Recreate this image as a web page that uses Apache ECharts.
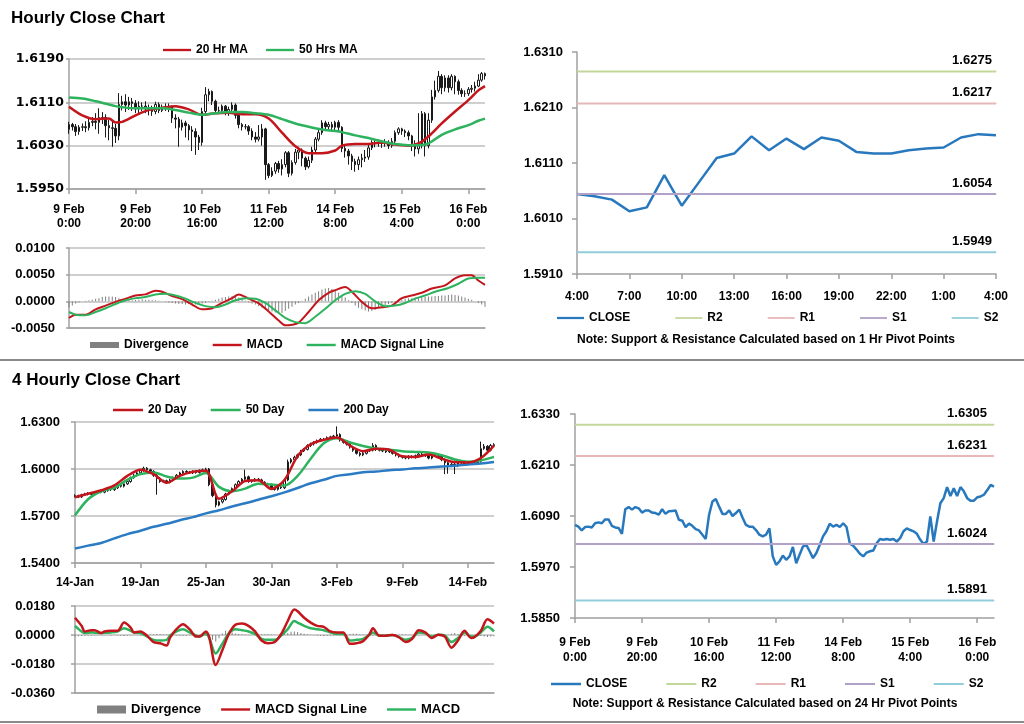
<!DOCTYPE html>
<html><head><meta charset="utf-8">
<script src="https://cdn.jsdelivr.net/npm/echarts@6/dist/echarts.min.js"></script>
<style>
html,body{margin:0;padding:0;background:#fff;}
body{width:1024px;height:724px;position:relative;overflow:hidden;}
.c{position:absolute;}
.sep{position:absolute;left:0;width:1024px;height:2px;background:#8a8a8a;}
</style></head><body>
<div id="tl" class="c" style="left:0;top:0;width:505px;height:358px"></div>
<div id="tr" class="c" style="left:505px;top:0;width:519px;height:358px"></div>
<div id="bl" class="c" style="left:0;top:362px;width:505px;height:358px"></div>
<div id="br" class="c" style="left:505px;top:362px;width:519px;height:358px"></div>
<div class="sep" style="top:359px"></div>
<div class="sep" style="top:721px"></div>
<script>
const FONT = '"Liberation Sans", Arial, sans-serif';

// ---------- Hourly data (9 Feb 0:00 .. 16 Feb 5:00) ----------
const hourTicks = ['9 Feb\n0:00','9 Feb\n20:00','10 Feb\n16:00','11 Feb\n12:00','14 Feb\n8:00','15 Feb\n4:00','16 Feb\n0:00'];
const hourClose = [1.6069,1.6065,1.6056,1.6064,1.6065,1.6063,1.6073,1.6075,1.6073,1.6082,
1.6082,1.6067,1.6063,1.6062,1.6048,1.6106,1.6111,1.6105,1.6111,1.6108,
1.6098,1.6103,1.6103,1.6098,1.6097,1.6093,1.6106,1.6095,1.6101,1.6102,
1.6103,1.6081,1.6079,1.6064,1.6072,1.6067,1.6059,1.6056,1.6046,1.6036,
1.6093,1.6124,1.6130,1.6112,1.6095,1.6095,1.6103,1.6090,1.6097,1.6105,
1.6086,1.6069,1.6065,1.6065,1.6057,1.6046,1.6042,1.6046,1.6061,1.5995,
1.5975,1.5983,1.5997,1.5987,1.5995,1.6017,1.5979,1.5999,1.6018,1.6022,
1.6007,1.5991,1.6003,1.6022,1.6042,1.6054,1.6072,1.6065,1.6069,1.6064,
1.6073,1.6064,1.6025,1.6020,1.6011,1.6001,1.5995,1.6004,1.6007,1.6009,
1.6026,1.6036,1.6034,1.6036,1.6034,1.6036,1.6030,1.6038,1.6054,1.6061,
1.6057,1.6054,1.6048,1.6034,1.6024,1.6030,1.6089,1.6030,1.6077,1.6120,
1.6132,1.6158,1.6137,1.6155,1.6137,1.6158,1.6148,1.6132,1.6126,1.6126,
1.6134,1.6136,1.6140,1.6151,1.6163,1.6159];
const hourOpen = [1.6060,1.6069,1.6065,1.6056,1.6064,1.6065,1.6063,1.6073,1.6075,1.6073,
1.6082,1.6082,1.6067,1.6063,1.6062,1.6048,1.6106,1.6111,1.6105,1.6111,
1.6108,1.6098,1.6103,1.6103,1.6098,1.6097,1.6093,1.6106,1.6095,1.6101,
1.6102,1.6103,1.6081,1.6079,1.6064,1.6072,1.6067,1.6059,1.6056,1.6046,
1.6036,1.6093,1.6124,1.6130,1.6112,1.6095,1.6095,1.6103,1.6090,1.6097,
1.6105,1.6086,1.6069,1.6065,1.6065,1.6057,1.6046,1.6042,1.6046,1.6061,
1.5995,1.5975,1.5983,1.5997,1.5987,1.5995,1.6017,1.5979,1.5999,1.6018,
1.6022,1.6007,1.5991,1.6003,1.6022,1.6042,1.6054,1.6072,1.6065,1.6069,
1.6064,1.6073,1.6064,1.6025,1.6020,1.6011,1.6001,1.5995,1.6004,1.6007,
1.6009,1.6026,1.6036,1.6034,1.6036,1.6034,1.6036,1.6030,1.6038,1.6054,
1.6061,1.6057,1.6054,1.6048,1.6034,1.6024,1.6030,1.6089,1.6030,1.6077,
1.6120,1.6132,1.6158,1.6137,1.6155,1.6137,1.6158,1.6148,1.6132,1.6126,
1.6126,1.6134,1.6136,1.6140,1.6151,1.6163];
const hourLow = [1.6052,1.6058,1.6048,1.6050,1.6057,1.6055,1.6058,1.6066,1.6060,1.6052,
1.6070,1.6045,1.6040,1.6028,1.6035,1.6040,1.6095,1.6092,1.6096,1.6094,
1.6090,1.6088,1.6094,1.6090,1.6086,1.6085,1.6088,1.6090,1.6092,1.6094,
1.6092,1.6072,1.6062,1.6028,1.6058,1.6045,1.6040,1.6020,1.6013,1.6022,
1.6030,1.6088,1.6112,1.6105,1.6090,1.6088,1.6090,1.6086,1.6085,1.6090,
1.6080,1.6062,1.6058,1.6060,1.6050,1.6040,1.6036,1.6038,1.6030,1.5967,
1.5970,1.5972,1.5978,1.5980,1.5975,1.5990,1.5972,1.5975,1.5995,1.6005,
1.5992,1.5985,1.5988,1.5998,1.6018,1.6038,1.6050,1.6058,1.6060,1.6056,
1.6058,1.6055,1.6018,1.6008,1.5995,1.5985,1.5982,1.5985,1.5990,1.6000,
1.6004,1.6022,1.6027,1.6028,1.6026,1.6028,1.6024,1.6026,1.6035,1.6050,
1.6050,1.6046,1.6040,1.6020,1.6010,1.6015,1.6025,1.6010,1.6025,1.6072,
1.6115,1.6128,1.6125,1.6130,1.6128,1.6132,1.6125,1.6124,1.6120,1.6120,
1.6122,1.6128,1.6130,1.6138,1.6148,1.6152];
const hourHigh = [1.6074,1.6072,1.6070,1.6068,1.6071,1.6075,1.6080,1.6083,1.6090,1.6099,
1.6092,1.6088,1.6078,1.6075,1.6070,1.6127,1.6122,1.6125,1.6120,1.6118,
1.6114,1.6112,1.6110,1.6112,1.6106,1.6104,1.6111,1.6110,1.6106,1.6108,
1.6108,1.6104,1.6088,1.6083,1.6078,1.6076,1.6070,1.6066,1.6062,1.6050,
1.6100,1.6138,1.6135,1.6132,1.6115,1.6102,1.6106,1.6105,1.6102,1.6110,
1.6108,1.6090,1.6072,1.6070,1.6068,1.6062,1.6055,1.6068,1.6070,1.6063,
1.5998,1.5990,1.6000,1.6002,1.6005,1.6020,1.6020,1.6003,1.6024,1.6028,
1.6025,1.6010,1.6010,1.6028,1.6046,1.6062,1.6077,1.6076,1.6074,1.6074,
1.6076,1.6077,1.6066,1.6030,1.6024,1.6015,1.6006,1.6010,1.6015,1.6022,
1.6032,1.6040,1.6040,1.6041,1.6040,1.6042,1.6040,1.6044,1.6058,1.6064,
1.6063,1.6060,1.6058,1.6050,1.6040,1.6090,1.6094,1.6092,1.6090,1.6133,
1.6150,1.6168,1.6162,1.6160,1.6160,1.6162,1.6160,1.6152,1.6136,1.6132,
1.6138,1.6142,1.6148,1.6162,1.6166,1.6165];
const hMaIdx = [0,4,8,12,14,16,20,24,28,32,36,40,44,48,52,56,60,64,68,72,76,80,82,86,90,94,98,102,105,108,112,116,120,123,125];
const hMa20 = [1.6102,1.6086,1.6079,1.6080,1.6073,1.6074,1.6086,1.6096,1.6100,1.6103,1.6097,1.6087,1.6090,1.6091,1.6088,1.6088,1.6080,1.6054,1.6029,1.6016,1.6016,1.6021,1.6030,1.6033,1.6033,1.6036,1.6032,1.6030,1.6034,1.6047,1.6071,1.6093,1.6114,1.6132,1.6140];
const hMa50 = [1.6119,1.6117,1.6112,1.6106,1.6103,1.6101,1.6099,1.6099,1.6099,1.6096,1.6091,1.6087,1.6090,1.6092,1.6092,1.6090,1.6087,1.6079,1.6071,1.6065,1.6060,1.6057,1.6055,1.6049,1.6044,1.6038,1.6033,1.6031,1.6031,1.6034,1.6050,1.6060,1.6068,1.6076,1.6080];
const hPriceTicks = [1.5950,1.6030,1.6110,1.6190];
const hMacdTicks = [-0.005,0,0.005,0.010];
const hMacdIdx = [0,2,5,8,11,14,17,20,23,26,28,31,34,37,40,43,46,49,51,54,57,60,63,65,67,69,72,75,78,80,83,85,88,91,94,97,100,103,106,109,113,116,119,121,123,125];
const hMacd = [-0.0031,-0.0025,-0.0025,-0.0015,-0.0008,-0.0001,0.0005,0.0011,0.0013,0.0020,0.0018,0.0010,0.0004,-0.0006,-0.0015,-0.0013,-0.0003,0.0006,0.0013,0.0005,-0.0004,-0.0019,-0.0036,-0.0045,-0.0044,-0.0040,-0.0020,0.0002,0.0016,0.0021,0.0027,0.0018,-0.0001,-0.0013,-0.0011,-0.0008,0.0006,0.0011,0.0016,0.0024,0.0030,0.0043,0.0049,0.0049,0.0039,0.0031];
const hSigIdx = [0,2,5,8,11,14,17,20,23,26,29,32,35,38,41,44,47,50,53,56,59,62,65,68,71,74,77,80,83,86,89,92,95,98,101,104,107,110,114,117,120,123,125];
const hSig = [-0.0020,-0.0025,-0.0026,-0.0020,-0.0013,-0.0005,0.0002,0.0006,0.0008,0.0013,0.0014,0.0011,0.0005,-0.0003,-0.0009,-0.0011,-0.0006,0.0002,0.0006,0.0005,-0.0003,-0.0017,-0.0031,-0.0039,-0.0041,-0.0029,-0.0014,0.0002,0.0014,0.0019,0.0014,0.0000,-0.0009,-0.0008,-0.0003,0.0005,0.0011,0.0018,0.0025,0.0033,0.0043,0.0044,0.0044];
const hourDiv = [-0.0011,-0.0008,-0.0004,-0.0002,0.0000,0.0001,0.0002,0.0003,0.0005,0.0006,
0.0008,0.0009,0.0009,0.0009,0.0008,0.0006,0.0004,0.0003,0.0003,0.0002,
0.0003,0.0003,0.0004,0.0003,0.0003,0.0002,0.0002,0.0001,0.0000,-0.0001,
-0.0002,-0.0003,-0.0004,-0.0005,-0.0005,-0.0006,-0.0005,-0.0005,-0.0006,-0.0005,
-0.0004,-0.0003,-0.0001,0.0001,0.0003,0.0005,0.0007,0.0008,0.0009,0.0010,
0.0009,0.0007,0.0004,0.0001,-0.0002,-0.0004,-0.0006,-0.0009,-0.0012,-0.0015,
-0.0017,-0.0019,-0.0021,-0.0023,-0.0022,-0.0018,-0.0014,-0.0010,-0.0006,-0.0003,
0.0001,0.0005,0.0009,0.0013,0.0016,0.0019,0.0022,0.0024,0.0025,0.0023,
0.0020,0.0016,0.0012,0.0007,0.0002,-0.0003,-0.0008,-0.0012,-0.0015,-0.0017,
-0.0019,-0.0018,-0.0016,-0.0013,-0.0010,-0.0007,-0.0005,-0.0003,-0.0001,0.0002,
0.0004,0.0005,0.0006,0.0006,0.0007,0.0007,0.0008,0.0008,0.0009,0.0009,
0.0010,0.0010,0.0011,0.0011,0.0012,0.0013,0.0012,0.0011,0.0009,0.0007,
0.0005,0.0003,0.0000,-0.0003,-0.0006,-0.0010];

// ---------- Pivot charts ----------
const pivNames = ['R2','R1','S1','S2'];
const pivHours = ['4:00','5:00','6:00','7:00','8:00','9:00','10:00','11:00','12:00','13:00','14:00','15:00','16:00','17:00','18:00','19:00','20:00','21:00','22:00','23:00','0:00','1:00','2:00','3:00','4:00'];
const pivClose = [1.6054,1.6050,1.6044,1.6023,1.6030,1.6088,1.6033,1.6076,1.6119,1.6127,1.6158,1.6133,1.6154,1.6135,1.6156,1.6150,1.6130,1.6127,1.6127,1.6133,1.6136,1.6138,1.6156,1.6162,1.6160];
const piv1h = [1.6275,1.6217,1.6054,1.5949];
const piv1hTicks = [1.5910,1.6010,1.6110,1.6210,1.6310];
const piv24h = [1.6305,1.6231,1.6024,1.5891];
const piv24hTicks = [1.5850,1.5970,1.6090,1.6210,1.6330];

// ---------- 4-hourly data (14 Jan .. 15 Feb) ----------
const fourTicks = ['14-Jan','19-Jan','25-Jan','30-Jan','3-Feb','9-Feb','14-Feb'];
const fourClose = [1.5830,1.5822,1.5835,1.5840,1.5845,1.5838,1.5850,1.5858,1.5852,1.5862,
1.5870,1.5868,1.5880,1.5895,1.5890,1.5905,1.5920,1.5945,1.5960,1.5975,
1.5990,1.6005,1.5995,1.5985,1.5960,1.5940,1.5920,1.5925,1.5915,1.5930,
1.5945,1.5960,1.5975,1.5985,1.5980,1.5975,1.5985,1.5978,1.5990,1.5995,
1.6000,1.5900,1.5830,1.5770,1.5790,1.5805,1.5840,1.5860,1.5875,1.5900,
1.5920,1.5935,1.5950,1.5920,1.5925,1.5935,1.5930,1.5915,1.5905,1.5900,
1.5880,1.5870,1.5885,1.5880,1.5930,1.6045,1.6060,1.6075,1.6090,1.6115,
1.6125,1.6150,1.6160,1.6170,1.6180,1.6190,1.6185,1.6200,1.6205,1.6210,
1.6220,1.6185,1.6170,1.6160,1.6140,1.6120,1.6100,1.6090,1.6100,1.6115,
1.6120,1.6150,1.6125,1.6120,1.6115,1.6110,1.6115,1.6100,1.6090,1.6080,
1.6075,1.6070,1.6080,1.6075,1.6085,1.6095,1.6090,1.6085,1.6070,1.6090,
1.6085,1.6080,1.6060,1.6040,1.6020,1.6030,1.6020,1.6040,1.6045,1.6030,
1.6040,1.6035,1.6040,1.6050,1.6130,1.6145,1.6120,1.6150,1.6155];
const fourOpen = [1.5825,1.5830,1.5822,1.5835,1.5840,1.5845,1.5838,1.5850,1.5858,1.5852,
1.5862,1.5870,1.5868,1.5880,1.5895,1.5890,1.5905,1.5920,1.5945,1.5960,
1.5975,1.5990,1.6005,1.5995,1.5985,1.5960,1.5940,1.5920,1.5925,1.5915,
1.5930,1.5945,1.5960,1.5975,1.5985,1.5980,1.5975,1.5985,1.5978,1.5990,
1.5995,1.6000,1.5900,1.5830,1.5770,1.5790,1.5805,1.5840,1.5860,1.5875,
1.5900,1.5920,1.5935,1.5950,1.5920,1.5925,1.5935,1.5930,1.5915,1.5905,
1.5900,1.5880,1.5870,1.5885,1.5880,1.5930,1.6045,1.6060,1.6075,1.6090,
1.6115,1.6125,1.6150,1.6160,1.6170,1.6180,1.6190,1.6185,1.6200,1.6205,
1.6210,1.6220,1.6185,1.6170,1.6160,1.6140,1.6120,1.6100,1.6090,1.6100,
1.6115,1.6120,1.6150,1.6125,1.6120,1.6115,1.6110,1.6115,1.6100,1.6090,
1.6080,1.6075,1.6070,1.6080,1.6075,1.6085,1.6095,1.6090,1.6085,1.6070,
1.6090,1.6085,1.6080,1.6060,1.6040,1.6020,1.6030,1.6020,1.6040,1.6045,
1.6030,1.6040,1.6035,1.6040,1.6050,1.6130,1.6145,1.6120,1.6150];
const fourLow = [1.5818,1.5815,1.5815,1.5828,1.5832,1.5830,1.5830,1.5842,1.5845,1.5845,
1.5855,1.5860,1.5860,1.5872,1.5882,1.5882,1.5898,1.5912,1.5938,1.5952,
1.5968,1.5982,1.5985,1.5975,1.5950,1.5836,1.5912,1.5912,1.5905,1.5908,
1.5922,1.5938,1.5952,1.5968,1.5972,1.5968,1.5968,1.5970,1.5970,1.5985,
1.5988,1.5890,1.5820,1.5755,1.5762,1.5780,1.5798,1.5832,1.5852,1.5868,
1.5892,1.5912,1.5928,1.5912,1.5912,1.5918,1.5922,1.5908,1.5898,1.5892,
1.5872,1.5862,1.5862,1.5872,1.5872,1.5922,1.6035,1.6050,1.6066,1.6082,
1.6108,1.6118,1.6140,1.6150,1.6162,1.6172,1.6178,1.6178,1.6190,1.6195,
1.6200,1.6175,1.6162,1.6150,1.6130,1.6110,1.6092,1.6080,1.6082,1.6092,
1.6108,1.6112,1.6115,1.6112,1.6108,1.6102,1.6102,1.6092,1.6080,1.6072,
1.6066,1.6062,1.6062,1.6068,1.6066,1.6078,1.6082,1.6078,1.6062,1.6062,
1.6078,1.6072,1.6050,1.5967,1.5970,1.6012,1.5968,1.6012,1.6032,1.6022,
1.6022,1.6028,1.6028,1.6032,1.6042,1.6122,1.6110,1.6112,1.6142];
const fourHigh = [1.5838,1.5836,1.5842,1.5848,1.5852,1.5852,1.5858,1.5866,1.5865,1.5870,
1.5878,1.5878,1.5888,1.5902,1.5902,1.5912,1.5928,1.5952,1.5968,1.5982,
1.5998,1.6015,1.6012,1.6002,1.5992,1.5968,1.5948,1.5932,1.5932,1.5938,
1.5952,1.5968,1.5982,1.5992,1.5992,1.5988,1.5992,1.5992,1.5998,1.6002,
1.6008,1.6006,1.5908,1.5838,1.5798,1.5812,1.5848,1.5868,1.5882,1.5908,
1.5928,1.5942,1.5996,1.5958,1.5932,1.5942,1.5942,1.5938,1.5922,1.5912,
1.5908,1.5888,1.5892,1.5892,1.5938,1.6060,1.6070,1.6085,1.6098,1.6122,
1.6132,1.6158,1.6168,1.6178,1.6188,1.6198,1.6198,1.6208,1.6212,1.6218,
1.6272,1.6228,1.6192,1.6178,1.6168,1.6148,1.6128,1.6108,1.6108,1.6122,
1.6128,1.6165,1.6158,1.6132,1.6128,1.6122,1.6122,1.6122,1.6108,1.6098,
1.6088,1.6082,1.6088,1.6088,1.6092,1.6102,1.6102,1.6098,1.6092,1.6098,
1.6098,1.6092,1.6088,1.6068,1.6048,1.6038,1.6038,1.6048,1.6052,1.6052,
1.6048,1.6048,1.6048,1.6058,1.6175,1.6160,1.6152,1.6160,1.6165];
const fMaIdx = [0,4,8,12,16,20,24,28,32,36,40,44,48,52,56,60,64,68,72,76,80,84,88,92,96,100,104,108,112,116,120,124,128];
const fMa20 = [1.5820,1.5842,1.5864,1.5895,1.5956,1.5996,1.5967,1.5912,1.5956,1.5982,1.5989,1.5810,1.5858,1.5923,1.5928,1.5873,1.5930,1.6083,1.6158,1.6186,1.6201,1.6149,1.6114,1.6129,1.6123,1.6081,1.6077,1.6092,1.6066,1.6044,1.6042,1.6070,1.6149];
const fMa50 = [1.5704,1.5807,1.5858,1.5880,1.5930,1.5967,1.5978,1.5952,1.5939,1.5945,1.5974,1.5886,1.5858,1.5875,1.5906,1.5901,1.5895,1.5956,1.6066,1.6164,1.6197,1.6169,1.6147,1.6131,1.6123,1.6114,1.6109,1.6105,1.6088,1.6061,1.6046,1.6055,1.6077];
const fMa200 = [1.5492,1.5511,1.5528,1.5557,1.5584,1.5606,1.5631,1.5650,1.5673,1.5693,1.5717,1.5737,1.5761,1.5781,1.5804,1.5826,1.5851,1.5879,1.5909,1.5931,1.5956,1.5967,1.5979,1.5984,1.5992,1.5997,1.6005,1.6009,1.6016,1.6020,1.6029,1.6035,1.6044];
const fPriceTicks = [1.5400,1.5700,1.6000,1.6300];
const fMacdTicks = [-0.036,-0.018,0,0.018];
const fMacdIdx = [0,2,3,5,6,8,9,11,13,15,17,18,20,22,24,26,28,29,31,33,35,37,38,40,41,43,45,47,49,51,53,55,57,59,61,63,65,67,68,70,72,74,76,78,80,82,84,86,88,90,91,93,95,97,99,101,103,105,107,109,111,113,115,117,119,121,122,124,126,128];
const fSignal = [0.0107,0.0057,0.0022,0.0030,0.0030,0.0012,0.0022,0.0026,0.0026,0.0077,
0.0046,0.0016,0.0022,-0.0004,-0.0044,-0.0051,-0.0065,-0.0018,0.0036,0.0067,
0.0036,-0.0010,-0.0010,0.0022,-0.0014,-0.0186,-0.0095,0.0006,0.0063,0.0071,
0.0057,0.0022,-0.0034,-0.0051,-0.0044,0.0006,0.0087,0.0158,0.0147,0.0107,
0.0077,0.0057,0.0051,0.0022,0.0016,0.0016,-0.0055,-0.0051,-0.0038,0.0006,
0.0042,-0.0004,-0.0004,0.0000,-0.0014,-0.0044,-0.0024,0.0030,0.0016,-0.0018,
0.0002,-0.0010,-0.0079,-0.0034,0.0026,-0.0018,-0.0014,0.0026,0.0097,0.0071];
const fMacd = [0.0057,0.0022,0.0012,0.0016,0.0014,0.0012,0.0014,0.0016,0.0022,0.0042,
0.0026,0.0016,0.0012,-0.0010,-0.0030,-0.0034,-0.0030,-0.0004,0.0022,0.0036,
0.0016,-0.0004,-0.0010,0.0010,-0.0018,-0.0115,-0.0055,0.0010,0.0036,0.0030,
0.0022,0.0006,-0.0024,-0.0030,-0.0030,-0.0004,0.0036,0.0087,0.0077,0.0057,
0.0042,0.0036,0.0030,0.0016,0.0006,0.0006,-0.0034,-0.0030,-0.0024,0.0002,
0.0016,-0.0004,-0.0004,0.0000,-0.0014,-0.0030,-0.0018,0.0016,0.0010,-0.0010,
0.0002,-0.0004,-0.0044,-0.0018,0.0016,-0.0010,-0.0010,0.0016,0.0051,0.0022];
const fourDiv = [-0.0010,-0.0008,-0.0006,-0.0005,-0.0004,-0.0004,-0.0003,-0.0002,-0.0002,-0.0001,
-0.0002,-0.0003,-0.0002,-0.0003,-0.0004,-0.0006,-0.0005,-0.0003,-0.0002,-0.0002,
-0.0003,-0.0002,0.0000,0.0003,0.0005,0.0006,0.0006,0.0005,0.0004,0.0003,
0.0000,-0.0003,-0.0005,-0.0006,-0.0004,-0.0002,0.0000,0.0001,0.0002,0.0000,
-0.0006,-0.0015,-0.0030,-0.0040,-0.0020,0.0010,0.0026,0.0022,0.0015,0.0010,
0.0006,0.0004,0.0003,0.0002,0.0001,0.0002,0.0003,0.0004,0.0005,0.0004,
0.0003,0.0002,0.0000,-0.0002,0.0004,0.0012,0.0020,0.0022,0.0018,0.0012,
0.0008,0.0004,0.0002,-0.0002,-0.0004,-0.0006,-0.0007,-0.0006,-0.0004,-0.0003,
-0.0002,-0.0002,-0.0003,-0.0004,0.0006,0.0008,0.0007,0.0005,0.0003,0.0001,
-0.0002,-0.0004,-0.0002,0.0000,0.0001,0.0001,0.0000,0.0000,0.0002,0.0003,
0.0004,0.0003,0.0001,-0.0002,-0.0004,-0.0003,-0.0001,0.0001,0.0003,0.0002,
0.0000,-0.0002,-0.0003,-0.0001,0.0002,0.0008,0.0012,0.0006,-0.0002,-0.0004,
-0.0002,0.0002,0.0001,-0.0002,-0.0006,-0.0010,-0.0012,-0.0010,-0.0008];

// ---------- styling ----------
const C = {
  red: '#c3161c', green: '#2db35e', blue: '#2a7bc4', close: '#2878bd',
  piv: ['#c4d79b', '#e6b8b7', '#b1a0c7', '#92cddc'],
  axis: '#a0a0a0', grid: '#bfbfbf', candle: '#1a1a1a', div: '#808080'
};
const LINE_ICON = 'path://M0,0H30V2.5H0Z';
const THIN_ICON = 'path://M0,0H30V2H0Z';
const txt = (size) => ({ fontFamily: FONT, fontSize: size, fontWeight: 'bold', color: '#000' });
const pairs = (idx, vals) => idx.map((x, k) => [x, vals[k]]);
const catsFrom = (n, ticks, step) => Array.from({ length: n }, (_, i) => (i % step === 0 && ticks[i / step] !== undefined) ? ticks[i / step] : '');
const fmt4 = v => Number(v).toFixed(4);
const lineItems = (names, icon) => names.map(n => ({ name: n, icon: icon || LINE_ICON }));

function valueAxis(grid, ticks, o) {
  return {
    type: 'value', gridIndex: grid, min: ticks[0], max: ticks[ticks.length - 1],
    axisLine: { show: true, lineStyle: { color: C.axis, width: 1.5 } },
    axisTick: { show: true, length: o.tick || 4, customValues: ticks, lineStyle: { color: C.axis, width: 1.5 } },
    axisLabel: Object.assign({ customValues: ticks, formatter: fmt4, margin: o.margin }, txt(o.size || 13), o.font ? { fontFamily: o.font } : {}),
    splitLine: { show: !!o.split, lineStyle: { color: C.grid, width: 1.5 } }
  };
}
function catAxis(grid, data, o) {
  return {
    type: 'category', gridIndex: grid, data: data, boundaryGap: false,
    axisLine: { show: true, onZero: false, lineStyle: { color: C.axis, width: 1.5 } },
    axisTick: { show: o.labels !== false, interval: o.interval, length: 5, lineStyle: { color: C.axis, width: 1.5 } },
    axisLabel: Object.assign({ show: o.labels !== false, interval: o.interval, margin: o.margin || 10, lineHeight: o.lh || 14 }, txt(12)),
    splitLine: { show: false }
  };
}
function lineS(name, data, color, w, xi, yi) {
  return { name, type: 'line', xAxisIndex: xi || 0, yAxisIndex: yi || 0, data, symbol: 'none', smooth: 0.3,
    lineStyle: { color, width: w }, itemStyle: { color }, silent: true, z: 3 };
}
function candleS(o, c, l, h) {
  return { type: 'candlestick', xAxisIndex: 0, yAxisIndex: 0, barWidth: 2, silent: true,
    data: o.map((v, i) => [v, c[i], l[i], h[i]]),
    itemStyle: { color: '#ffffff', color0: C.candle, borderColor: C.candle, borderColor0: C.candle, borderWidth: 1 } };
}
function divS(data) {
  return { name: 'Divergence', type: 'bar', xAxisIndex: 1, yAxisIndex: 1, data, barWidth: 1,
    itemStyle: { color: C.div }, silent: true };
}
function pivotSeries(vals, lastIdx, offX) {
  return pivNames.map((nm, k) => ({
    name: nm, type: 'line', symbol: 'none', showAllSymbol: true, silent: true, clip: false,
    lineStyle: { color: C.piv[k], width: 2 }, itemStyle: { color: C.piv[k] },
    data: [[0, vals[k]], { value: [lastIdx, vals[k]], symbol: 'circle', symbolSize: 1,
      label: Object.assign({ show: true, position: 'top', offset: [offX, 1], formatter: fmt4(vals[k]) }, txt(13)) }]
  }));
}
const legendTxt = txt(12);

// ---------- Top-left: Hourly close chart ----------
const hourCats = catsFrom(hourClose.length, hourTicks, 20);
echarts.init(document.getElementById('tl')).setOption({
  animation: false,
  title: { text: 'Hourly Close Chart', left: 6, top: 5, textStyle: txt(17) },
  legend: [
    { data: lineItems(['20 Hr MA', '50 Hrs MA']), left: 158, top: 39, itemWidth: 28, itemHeight: 8, itemGap: 18, textStyle: legendTxt, selectedMode: false },
    { data: [{ name: 'Divergence', icon: 'rect' }].concat(lineItems(['MACD', 'MACD Signal Line'])), left: 85, top: 334, itemWidth: 29, itemHeight: 6, itemGap: 24, textStyle: legendTxt, selectedMode: false }
  ],
  grid: [{ left: 69, top: 59, width: 416, height: 130 }, { left: 69, top: 248, width: 416, height: 80 }],
  xAxis: [catAxis(0, hourCats, { interval: 19, margin: 14, lh: 14 }), catAxis(1, hourCats, { labels: false })],
  yAxis: [valueAxis(0, hPriceTicks, { split: true, margin: 5, size: 12.5, tick: 3, font: '"DejaVu Sans", sans-serif' }),
          valueAxis(1, hMacdTicks, { split: true, margin: 14, size: 13, tick: 3 })],
  series: [
    candleS(hourOpen, hourClose, hourLow, hourHigh),
    lineS('20 Hr MA', pairs(hMaIdx, hMa20), C.red, 2.5),
    lineS('50 Hrs MA', pairs(hMaIdx, hMa50), C.green, 2.5),
    divS(hourDiv),
    lineS('MACD', pairs(hMacdIdx, hMacd), C.red, 2, 1, 1),
    lineS('MACD Signal Line', pairs(hSigIdx, hSig), C.green, 2, 1, 1)
  ]
});

// ---------- Top-right: 1 Hr pivot chart ----------
echarts.init(document.getElementById('tr')).setOption({
  animation: false,
  legend: { data: lineItems(['CLOSE']).concat(lineItems(pivNames, THIN_ICON)), left: 47, top: 307, itemWidth: 27, itemHeight: 8, itemGap: 45, textStyle: legendTxt, selectedMode: false },
  grid: { left: 72, top: 52, width: 419, height: 222 },
  xAxis: catAxis(0, pivHours, { interval: 2, margin: 16 }),
  yAxis: valueAxis(0, piv1hTicks, { margin: 14, size: 13, tick: 5 }),
  graphic: [{ type: 'text', x: 261, y: 340, style: { text: 'Note: Support & Resistance Calculated based on 1 Hr Pivot Points', align: 'center', verticalAlign: 'middle', fill: '#000', font: 'bold 12px ' + FONT } }],
  series: [Object.assign(lineS('CLOSE', pivClose, C.close, 2.5), { smooth: false })].concat(pivotSeries(piv1h, pivClose.length - 1, -24))
});

// ---------- Bottom-left: 4 Hourly close chart ----------
const fourCats = catsFrom(fourClose.length, fourTicks, 20);
echarts.init(document.getElementById('bl')).setOption({
  animation: false,
  title: { text: '4 Hourly Close Chart', left: 7, top: 5, textStyle: txt(17) },
  legend: [
    { data: lineItems(['20 Day', '50 Day', '200 Day']), left: 108, top: 37, itemWidth: 30, itemHeight: 8, itemGap: 24, textStyle: legendTxt, selectedMode: false },
    { data: [{ name: 'Divergence', icon: 'rect' }].concat(lineItems(['MACD Signal Line', 'MACD'])), left: 92, top: 336, itemWidth: 29, itemHeight: 8, itemGap: 20, textStyle: txt(13), selectedMode: false }
  ],
  grid: [{ left: 75, top: 60, width: 419, height: 141 }, { left: 75, top: 244, width: 419, height: 87 }],
  xAxis: [catAxis(0, fourCats, { interval: 19, margin: 13 }), catAxis(1, fourCats, { labels: false })],
  yAxis: [valueAxis(0, fPriceTicks, { split: true, margin: 15, size: 13, tick: 4 }),
          valueAxis(1, fMacdTicks, { split: true, margin: 20, size: 13, tick: 4 })],
  series: [
    candleS(fourOpen, fourClose, fourLow, fourHigh),
    lineS('200 Day', pairs(fMaIdx, fMa200), C.blue, 2.5),
    lineS('50 Day', pairs(fMaIdx, fMa50), C.green, 2.5),
    lineS('20 Day', pairs(fMaIdx, fMa20), C.red, 2.5),
    divS(fourDiv),
    lineS('MACD', pairs(fMacdIdx, fMacd), C.green, 2.5, 1, 1),
    lineS('MACD Signal Line', pairs(fMacdIdx, fSignal), C.red, 2.5, 1, 1)
  ]
});

// ---------- Bottom-right: 24 Hr pivot chart ----------
echarts.init(document.getElementById('br')).setOption({
  animation: false,
  legend: { data: lineItems(['CLOSE']).concat(lineItems(pivNames, THIN_ICON)), left: 41, top: 311, itemWidth: 30, itemHeight: 8, itemGap: 39, textStyle: legendTxt, selectedMode: false },
  grid: { left: 70, top: 52, width: 419, height: 204 },
  xAxis: catAxis(0, hourCats, { interval: 19, margin: 17, lh: 15 }),
  yAxis: valueAxis(0, piv24hTicks, { margin: 15, size: 13, tick: 5 }),
  graphic: [{ type: 'text', x: 260, y: 342, style: { text: 'Note: Support & Resistance Calculated based on 24 Hr Pivot Points', align: 'center', verticalAlign: 'middle', fill: '#000', font: 'bold 12px ' + FONT } }],
  series: [Object.assign(lineS('CLOSE', hourClose, C.close, 2.5), { smooth: false })].concat(pivotSeries(piv24h, hourClose.length - 1, -27))
});
</script></body></html>
